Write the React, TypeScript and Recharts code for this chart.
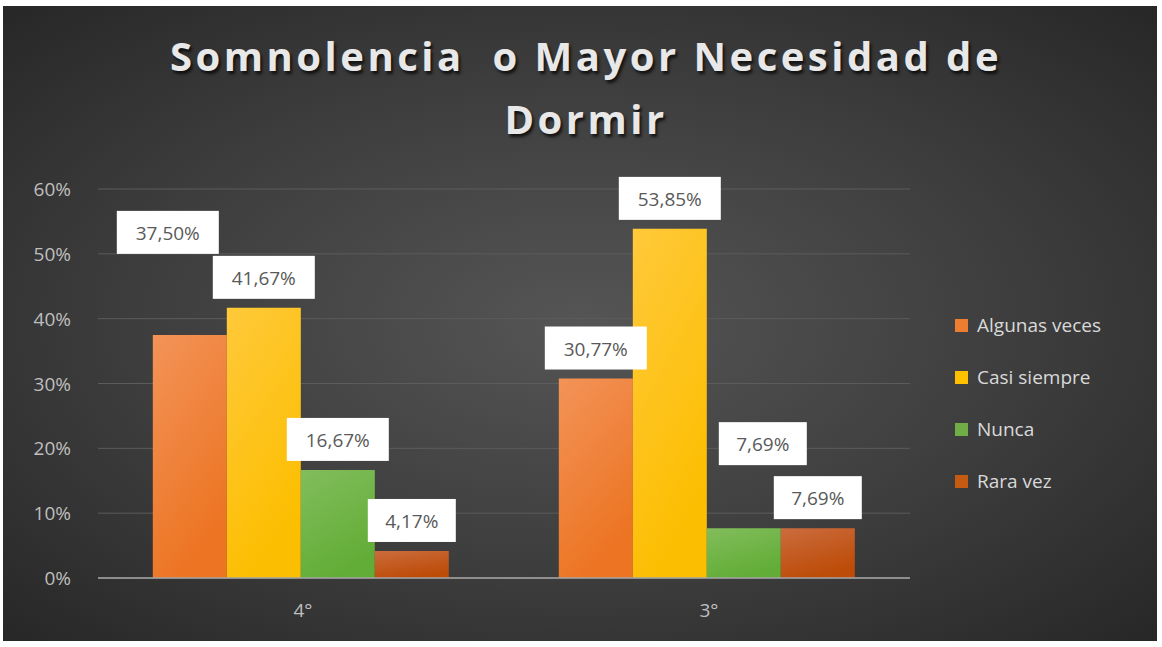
import React from "react";
import {
  BarChart,
  Bar,
  XAxis,
  YAxis,
  CartesianGrid,
  Legend,
  LabelList,
} from "recharts";

// Data
const categories = ["4°", "3°"];
const algunasVeces = [37.5, 30.77];
const casiSiempre = [41.67, 53.85];
const nunca = [16.67, 7.69];
const raraVez = [4.17, 7.69];
const yTicks = [0, 10, 20, 30, 40, 50, 60];

const series = [
  { key: "algunasVeces", name: "Algunas veces", values: algunasVeces, color: "#ed7d31", top: "#f39358", bottom: "#ec7422" },
  { key: "casiSiempre", name: "Casi siempre", values: casiSiempre, color: "#ffc000", top: "#ffc93a", bottom: "#fcbe00" },
  { key: "nunca", name: "Nunca", values: nunca, color: "#70ad47", top: "#82bd5c", bottom: "#62ad37" },
  { key: "raraVez", name: "Rara vez", values: raraVez, color: "#c55a11", top: "#cb6c3e", bottom: "#bd4c08" },
];

// manual label nudges (Excel labels that were dragged), per series / per category
const labelNudge = [
  [{ dx: -22, dy: -72 }, { dx: 0, dy: 0 }],
  [{ dx: 0, dy: 0 }, { dx: 0, dy: 0 }],
  [{ dx: 0, dy: 0 }, { dx: 19, dy: -54 }],
  [{ dx: 0, dy: 0 }, { dx: 0, dy: 0 }],
];

const chartData = categories.map((cat, i) => {
  const row: Record<string, string | number> = { cat };
  series.forEach((s) => (row[s.key] = s.values[i]));
  return row;
});

const fmt = (v: number) => v.toFixed(2).replace(".", ",") + "%";
const FONT = "'Open Sans', 'Noto Sans', sans-serif";

const makeLabel = (si: number) => (props: any) => {
  const { x, y, width, value, index } = props;
  const n = labelNudge[si][index] || { dx: 0, dy: 0 };
  const text = fmt(Number(value));
  const w = text.length * 14 + 18;
  const cx = Number(x) + Number(width) / 2 + n.dx;
  const bottom = Number(y) - 9 + n.dy;
  return (
    <g>
      <rect x={cx - w / 2} y={bottom - 43} width={w} height={43} fill="#ffffff" />
      <text
        x={cx}
        y={bottom - 21}
        textAnchor="middle"
        dominantBaseline="central"
        fontSize={19}
        fontFamily={FONT}
        fill="#595959"
      >
        {text}
      </text>
    </g>
  );
};

const XTick = (props: any) => {
  const { x, y, payload } = props;
  return (
    <text x={x + 2} y={y + 32} textAnchor="middle" dominantBaseline="central" fontSize={19} fontFamily={FONT} fill="#bfbfbf">
      {payload.value}
    </text>
  );
};

const YTick = (props: any) => {
  const { x, y, payload } = props;
  return (
    <text x={x - 27} y={y} textAnchor="end" dominantBaseline="central" fontSize={19} fontFamily={FONT} fill="#bfbfbf">
      {payload.value}%
    </text>
  );
};

const LegendBox = () => (
  <div style={{ fontFamily: FONT }}>
    {series.map((s) => (
      <div key={s.key} style={{ display: "flex", alignItems: "center", height: 52 }}>
        <span style={{ width: 13, height: 13, background: s.color, marginRight: 9, display: "inline-block" }} />
        <span style={{ fontSize: 19, color: "#d9d9d9", whiteSpace: "nowrap" }}>{s.name}</span>
      </div>
    ))}
  </div>
);

export default function App() {
  return (
    <div
      style={{
        position: "absolute",
        left: 3,
        top: 6,
        width: 1154,
        height: 635,
        background: "radial-gradient(ellipse at 50% 50%, #555555 0%, #3d3d3d 55%, #272727 100%)",
        overflow: "hidden",
      }}
    >
      <svg width={0} height={0} style={{ position: "absolute" }}>
        <defs>
          {series.map((s) => (
            <linearGradient key={s.key} id={`grad-${s.key}`} x1="0" y1="0" x2="0.4" y2="1">
              <stop offset="0%" stopColor={s.top} />
              <stop offset="100%" stopColor={s.bottom} />
            </linearGradient>
          ))}
        </defs>
      </svg>
      <div
        style={{
          position: "absolute",
          left: 0,
          top: 18,
          width: 1166,
          textAlign: "center",
          fontFamily: FONT,
          fontWeight: 700,
          fontSize: 40,
          lineHeight: "63px",
          letterSpacing: 3.5,
          color: "#e8e8e8",
          textShadow: "2px 3px 3px rgba(0,0,0,0.7)",
        }}
      >
        Somnolencia&nbsp; o Mayor Necesidad de
        <br />
        Dormir
      </div>
      <BarChart
        width={1154}
        height={635}
        data={chartData}
        margin={{ top: 183, right: 247, bottom: 23, left: 0 }}
        barCategoryGap="13.5%"
        barGap={0}
        style={{ position: "absolute", left: 0, top: 0 }}
      >
        <CartesianGrid vertical={false} stroke="#5c5c5c" strokeWidth={1} />
        <XAxis
          dataKey="cat"
          height={40}
          tickLine={false}
          tickSize={0}
          tickMargin={0}
          axisLine={{ stroke: "#a6a6a6", strokeWidth: 1.5 }}
          tick={<XTick />}
        />
        <YAxis
          width={95}
          domain={[0, 60]}
          ticks={yTicks}
          tickLine={false}
          tickSize={0}
          tickMargin={0}
          axisLine={false}
          tick={<YTick />}
        />
        <Legend
          layout="vertical"
          align="center"
          verticalAlign="middle"
          content={() => <LegendBox />}
          wrapperStyle={{ left: 952, top: 293, width: 200 }}
        />
        {series.map((s, si) => (
          <Bar
            key={s.key}
            dataKey={s.key}
            name={s.name}
            fill={`url(#grad-${s.key})`}
            isAnimationActive={false}
          >
            <LabelList dataKey={s.key} content={makeLabel(si)} />
          </Bar>
        ))}
      </BarChart>
    </div>
  );
}
